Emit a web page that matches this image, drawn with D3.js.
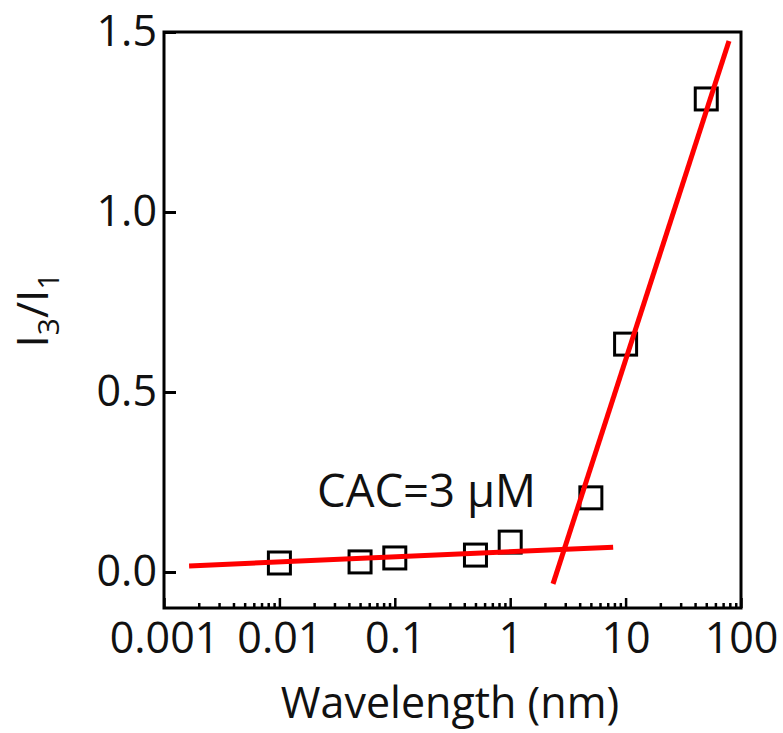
<!DOCTYPE html>
<html>
<head>
<meta charset="utf-8">
<script src="https://cdn.jsdelivr.net/npm/d3@7"></script>
<style>
  html, body { margin: 0; padding: 0; background: #fff; }
  svg { display: block; font-family: "Open Sans", "Noto Sans", sans-serif; }
</style>
</head>
<body>
<svg id="chart" width="783" height="733"></svg>
<script>
// ---- data ----
const wavelength = [0.01, 0.05, 0.1, 0.5, 1, 5, 10, 50];
const ratio      = [0.025, 0.028, 0.039, 0.047, 0.083, 0.206, 0.633, 1.314];
const fitLowX  = [0.00165, 7.8];
const fitLowY  = [0.017, 0.069];
const fitHighX = [2.35, 78.7];
const fitHighY = [-0.033, 1.475];
const xTickValues = [0.001, 0.01, 0.1, 1, 10, 100];
const xTickLabels = ["0.001", "0.01", "0.1", "1", "10", "100"];
const yTickValues = [0, 0.5, 1.0, 1.5];
const yTickLabels = ["0.0", "0.5", "1.0", "1.5"];
const annotation = "CAC=3 μM";

// ---- layout ----
const mLeft = 164, mRight = 741, mTop = 32, mBottom = 608;
const svg = d3.select("#chart");

const x = d3.scaleLog().domain([0.001, 100]).range([mLeft, mRight]);
const y = d3.scaleLinear().domain([-0.1, 1.5]).range([mBottom, mTop]);

// minor ticks
const minors = [];
for (let e = -3; e < 2; e++) {
  for (let m = 2; m <= 9; m++) minors.push(m * Math.pow(10, e));
}

const fontSize = 43;

// x axis minor ticks
svg.append("g")
  .attr("transform", `translate(0,${mBottom})`)
  .call(d3.axisBottom(x).tickValues(minors).tickSize(-5).tickFormat(""))
  .call(g => g.select(".domain").remove())
  .call(g => g.selectAll("line").attr("stroke", "#000").attr("stroke-width", 2.5));

// x axis majors
svg.append("g")
  .attr("transform", `translate(0,${mBottom})`)
  .call(d3.axisBottom(x).tickValues(xTickValues).tickSize(-10).tickPadding(14)
        .tickFormat((d, i) => xTickLabels[i]))
  .call(g => g.select(".domain").remove())
  .call(g => g.selectAll("line").attr("stroke", "#000").attr("stroke-width", 2.5))
  .call(g => g.selectAll("text").attr("font-size", fontSize).attr("fill", "#111")
        .attr("font-family", "'Open Sans', sans-serif"));

// y axis
svg.append("g")
  .attr("transform", `translate(${mLeft},0)`)
  .call(d3.axisLeft(y).tickValues(yTickValues).tickSize(-12).tickPadding(7)
        .tickFormat((d, i) => yTickLabels[i]))
  .call(g => g.select(".domain").remove())
  .call(g => g.selectAll("line").attr("stroke", "#000").attr("stroke-width", 3))
  .call(g => g.selectAll("text").attr("font-size", fontSize).attr("fill", "#111")
        .attr("font-family", "'Open Sans', sans-serif"));

// frame
svg.append("rect")
  .attr("x", mLeft).attr("y", mTop)
  .attr("width", mRight - mLeft).attr("height", mBottom - mTop)
  .attr("fill", "none").attr("stroke", "#000").attr("stroke-width", 3);

// data squares
const sq = 22;
svg.append("g").selectAll("rect")
  .data(wavelength.map((w, i) => [w, ratio[i]]))
  .join("rect")
  .attr("x", d => x(d[0]) - sq / 2)
  .attr("y", d => y(d[1]) - sq / 2)
  .attr("width", sq).attr("height", sq)
  .attr("fill", "none").attr("stroke", "#000").attr("stroke-width", 3);

// fit lines
const line = d3.line().x(d => x(d[0])).y(d => y(d[1]));
[[fitLowX, fitLowY], [fitHighX, fitHighY]].forEach(([xs, ys]) => {
  svg.append("path")
    .attr("d", line(xs.map((v, i) => [v, ys[i]])))
    .attr("fill", "none").attr("stroke", "#ff0000").attr("stroke-width", 5);
});

// annotation
svg.append("text")
  .attr("x", 317).attr("y", 507)
  .attr("font-size", 45.5).attr("fill", "#111")
  .text(annotation);

// x title
svg.append("text")
  .attr("x", 450).attr("y", 718)
  .attr("text-anchor", "middle")
  .attr("font-size", 43).attr("fill", "#111")
  .text("Wavelength (nm)");

// y title I3/I1
const yt = svg.append("text")
  .attr("transform", "translate(48,310) rotate(-90)")
  .attr("text-anchor", "middle")
  .attr("font-size", 44).attr("fill", "#111");
yt.append("tspan").text("I");
yt.append("tspan").attr("font-size", 30).attr("dy", 11).text("3");
yt.append("tspan").attr("dy", -11).text("/I");
yt.append("tspan").attr("font-size", 30).attr("dy", 11).text("1");
</script>
</body>
</html>
